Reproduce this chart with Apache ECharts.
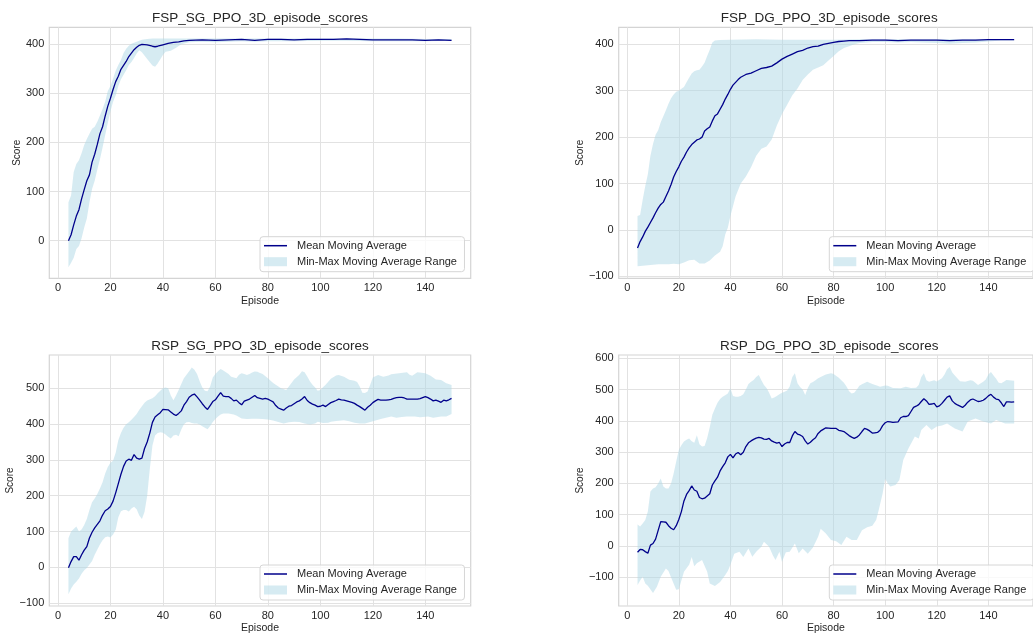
<!DOCTYPE html>
<html>
<head>
<meta charset="utf-8">
<script src="https://cdn.jsdelivr.net/npm/echarts@6/dist/echarts.min.js"></script>
<style>
html,body{margin:0;padding:0;background:#ffffff;}
#chart{width:1033px;height:636px;}
</style>
</head>
<body>
<div id="chart"></div>
<script>
// ---------------- DATA ----------------
const titles = [
  'FSP_SG_PPO_3D_episode_scores',
  'FSP_DG_PPO_3D_episode_scores',
  'RSP_SG_PPO_3D_episode_scores',
  'RSP_DG_PPO_3D_episode_scores'
];
const meanName = 'Mean Moving Average';
const rangeName = 'Min-Max Moving Average Range';
const xAxisName = 'Episode';
const yAxisName = 'Score';
const xTicks = [0, 20, 40, 60, 80, 100, 120, 140];
const p1YTicks = [0, 100, 200, 300, 400];
const p2YTicks = [-100, 0, 100, 200, 300, 400];
const p3YTicks = [-100, 0, 100, 200, 300, 400, 500];
const p4YTicks = [-100, 0, 100, 200, 300, 400, 500, 600];

// Panel 1: FSP_SG
const p1Mean = [[4,0],[5,12],[6,32],[7,50],[8,63],[9,85],[10,104],[11,122],[12,134],[13,160],[14,176],[15,196],[16,218],[17,232],[18,254],[19,274],[20,290],[21,308],[22,324],[23,335],[24,349],[25,357],[26,365],[27,375],[28,382],[29,389],[30,394],[31,398],[32,400],[34,399],[36,396],[37,395],[38,396],[40,399],[42,402],[44,404],[46,405],[48,407],[50,408],[55,409],[60,408],[65,409],[70,410],[75,408],[80,410],[85,410],[90,409],[95,410],[100,410],[105,410],[110,411],[115,410],[120,409],[125,409],[130,409],[135,409],[140,408],[145,409],[150,408]];
const p1Max = [[4,78],[5,92],[6,140],[7,156],[8,164],[9,178],[10,195],[11,207],[12,218],[13,228],[14,232],[15,242],[16,255],[17,268],[18,283],[19,305],[20,315],[21,330],[22,346],[23,358],[24,368],[25,382],[26,391],[27,397],[28,401],[29,403],[30,405],[32,409],[34,411],[36,412],[40,412],[50,412],[60,412],[70,412],[80,412],[90,412],[100,412],[110,412],[120,412],[130,412],[140,411],[150,411]];
const p1Min = [[4,-54],[5,-45],[6,-35],[7,-17],[8,-11],[9,5],[10,27],[11,45],[12,78],[13,105],[14,122],[15,145],[16,166],[17,190],[18,215],[19,240],[20,263],[21,283],[22,296],[23,315],[24,329],[25,338],[26,347],[27,358],[28,364],[29,372],[30,381],[31,388],[32,384],[34,370],[36,357],[37,354],[38,361],[40,378],[41,385],[43,387],[45,393],[47,400],[50,404],[55,405],[60,404],[65,405],[70,406],[75,405],[80,406],[90,406],[100,407],[110,407],[120,406],[130,406],[140,406],[150,407]];

// Panel 2: FSP_DG
const p2Mean = [[4,-39],[5,-25],[6,-15],[7,-3],[8,6],[9,16],[10,26],[11,37],[12,47],[13,55],[14,60],[15,72],[16,84],[17,98],[18,114],[19,126],[20,136],[21,148],[22,157],[23,168],[24,177],[25,184],[26,189],[27,194],[28,196],[29,200],[30,213],[31,218],[32,222],[33,235],[34,246],[35,250],[36,260],[37,270],[38,282],[39,292],[40,303],[41,312],[42,318],[43,324],[44,329],[46,335],[48,338],[50,343],[52,348],[54,350],[56,353],[58,360],[60,368],[62,374],[64,379],[66,384],[68,387],[70,392],[72,395],[74,396],[76,400],[78,402],[80,404],[82,406],[84,407],[86,408],[90,408],[95,409],[100,409],[105,408],[110,409],[115,409],[120,409],[125,408],[130,409],[135,409],[140,410],[145,410],[150,410]];
const p2Max = [[4,30],[5,32],[6,65],[7,95],[8,120],[9,160],[10,185],[11,205],[12,215],[13,232],[14,245],[15,258],[16,272],[17,284],[18,292],[19,298],[20,300],[21,304],[22,308],[23,318],[24,328],[25,337],[26,342],[27,344],[28,345],[29,352],[30,360],[31,375],[32,388],[33,404],[34,408],[36,409],[40,410],[50,411],[60,410],[70,410],[80,410],[90,411],[100,411],[110,411],[120,411],[130,411],[140,411],[150,411]];
const p2Min = [[4,-78],[6,-77],[8,-76],[10,-75],[12,-74],[14,-74],[16,-74],[18,-73],[20,-74],[22,-70],[24,-65],[26,-64],[28,-72],[30,-72],[32,-66],[34,-55],[36,-47],[37,-35],[38,-10],[39,5],[40,30],[42,72],[44,100],[46,115],[48,135],[50,160],[52,175],[54,180],[56,195],[58,225],[60,250],[62,270],[64,290],[66,305],[68,323],[70,335],[72,345],[74,350],[76,355],[78,365],[80,375],[82,385],[84,392],[86,396],[88,400],[90,403],[95,405],[100,405],[105,404],[110,405],[115,404],[120,403],[125,401],[130,403],[135,404],[140,406],[145,408],[150,408]];

// Panel 3: RSP_SG
const p3Mean = [[4,-1],[5,16],[6,30],[7,30],[8,20],[9,35],[10,48],[11,58],[12,82],[13,98],[14,110],[15,120],[16,130],[17,146],[18,158],[19,163],[20,170],[21,185],[22,208],[23,234],[24,260],[25,282],[26,297],[27,302],[28,299],[29,315],[30,305],[31,302],[32,305],[33,332],[34,350],[35,375],[36,405],[37,420],[38,426],[39,432],[40,441],[42,440],[43,434],[44,428],[45,424],[46,430],[47,437],[48,453],[49,463],[50,475],[51,481],[52,484],[53,476],[54,467],[55,457],[56,448],[57,441],[58,452],[59,463],[60,468],[61,478],[62,488],[63,478],[64,477],[65,477],[66,472],[67,465],[68,467],[69,460],[70,454],[71,464],[72,467],[73,470],[74,475],[75,480],[76,474],[77,472],[78,470],[79,472],[80,470],[81,466],[82,462],[83,452],[84,445],[85,442],[86,439],[87,445],[88,450],[89,452],[90,457],[91,462],[92,465],[93,470],[94,477],[95,466],[96,460],[97,456],[98,453],[99,449],[100,450],[101,453],[102,449],[103,455],[104,460],[105,463],[106,466],[107,470],[108,468],[109,467],[110,465],[111,463],[112,461],[113,458],[114,453],[115,449],[116,444],[117,439],[118,447],[119,453],[120,460],[121,465],[122,469],[123,467],[124,467],[125,467],[126,468],[127,469],[128,472],[129,474],[130,475],[131,475],[132,473],[133,470],[134,470],[135,470],[136,470],[137,470],[138,471],[139,474],[140,477],[141,474],[142,470],[143,465],[144,467],[145,464],[146,461],[147,467],[148,465],[149,468],[150,472]];
const p3Max = [[4,81],[5,100],[7,114],[8,100],[9,106],[10,118],[11,135],[12,160],[13,182],[14,192],[15,205],[16,220],[17,238],[18,262],[19,280],[20,292],[21,298],[22,320],[23,355],[24,375],[25,390],[26,400],[27,405],[28,412],[29,420],[30,428],[31,440],[32,450],[33,460],[34,466],[36,472],[37,478],[38,486],[39,493],[40,500],[41,502],[42,500],[43,480],[44,467],[45,480],[46,495],[47,512],[48,528],[49,538],[50,548],[51,558],[52,552],[53,540],[54,520],[55,502],[56,493],[57,492],[58,505],[59,530],[60,540],[61,548],[62,554],[63,550],[64,545],[65,540],[66,532],[67,530],[68,528],[69,538],[70,542],[71,540],[72,537],[73,540],[74,544],[75,547],[76,546],[77,543],[78,540],[80,528],[82,515],[84,505],[85,500],[87,495],[88,505],[89,515],[90,525],[92,538],[93,548],[94,545],[95,533],[96,520],[97,510],[98,502],[99,493],[100,495],[101,503],[102,510],[104,527],[106,536],[107,537],[109,532],[111,524],[113,521],[114,518],[115,505],[116,488],[117,487],[118,491],[119,510],[120,530],[122,537],[124,532],[126,536],[127,539],[130,542],[133,545],[134,538],[135,535],[137,545],[140,542],[142,535],[144,525],[146,523],[148,514],[150,509]];
const p3Min = [[4,-75],[5,-59],[6,-48],[7,-40],[8,-31],[9,-18],[10,-8],[11,-2],[12,8],[13,18],[14,35],[15,50],[16,64],[17,76],[18,84],[19,86],[20,83],[21,92],[22,105],[23,140],[24,157],[25,160],[26,160],[27,156],[28,164],[29,169],[30,162],[31,145],[32,135],[33,155],[34,200],[35,275],[36,340],[37,368],[38,375],[39,377],[40,376],[41,371],[42,365],[43,360],[44,368],[45,370],[46,366],[47,385],[48,400],[49,405],[50,406],[51,403],[52,402],[53,402],[54,399],[55,394],[56,390],[57,386],[58,395],[59,406],[60,414],[61,421],[62,427],[63,430],[65,430],[67,427],[68,424],[70,416],[72,414],[74,415],[76,415],[78,414],[80,413],[82,410],[84,406],[86,402],[88,405],[90,407],[92,406],[94,402],[96,399],[98,402],[99,407],[101,403],[103,404],[104,407],[106,409],[109,411],[111,408],[113,404],[115,402],[117,402],[119,406],[121,410],[123,414],[125,418],[127,421],[129,418],[131,420],[133,421],[136,421],[138,419],[141,421],[143,418],[146,421],[148,421],[149,425],[150,428]];

// Panel 4: RSP_DG
const p4Mean = [[4,-20],[5,-11],[6,-12],[7,-18],[8,-23],[9,3],[10,8],[11,22],[12,50],[13,78],[14,77],[15,76],[16,65],[17,57],[18,52],[19,65],[20,85],[21,110],[22,144],[23,165],[24,177],[25,192],[26,179],[27,175],[28,155],[29,151],[30,153],[31,160],[32,167],[33,195],[34,208],[35,220],[36,240],[37,254],[38,266],[39,285],[40,293],[41,282],[42,294],[43,299],[44,292],[45,300],[46,318],[47,330],[48,336],[49,341],[50,345],[51,347],[52,346],[53,342],[54,341],[55,344],[56,336],[57,332],[58,329],[59,331],[60,318],[61,326],[62,331],[63,331],[64,352],[65,366],[66,358],[67,355],[68,350],[69,336],[70,326],[71,332],[72,340],[73,346],[74,360],[75,368],[76,373],[77,378],[78,377],[79,376],[80,376],[81,376],[82,370],[83,368],[84,366],[85,360],[86,353],[87,348],[88,344],[89,348],[90,355],[91,366],[92,376],[93,373],[94,368],[95,361],[96,362],[97,363],[98,370],[99,385],[100,394],[101,398],[102,397],[103,395],[104,396],[105,397],[106,410],[107,414],[108,414],[109,417],[110,430],[111,443],[112,447],[113,452],[114,462],[115,471],[116,464],[117,453],[118,454],[119,456],[120,445],[121,448],[122,456],[123,466],[124,476],[125,480],[126,464],[127,456],[128,451],[129,447],[130,443],[131,450],[132,460],[133,467],[134,470],[135,466],[136,462],[137,463],[138,466],[139,472],[140,480],[141,485],[142,476],[143,470],[144,468],[145,458],[146,446],[147,461],[148,461],[149,460],[150,461]];
const p4Max = [[4,69],[5,62],[6,72],[7,83],[8,110],[9,174],[10,184],[11,188],[12,200],[13,216],[14,190],[15,184],[16,184],[17,200],[18,232],[19,270],[20,307],[21,322],[22,334],[23,340],[24,344],[25,335],[26,330],[27,354],[28,325],[29,318],[30,320],[31,345],[32,380],[33,420],[34,440],[35,458],[36,470],[37,477],[38,482],[39,488],[40,504],[41,480],[42,477],[43,477],[44,480],[45,485],[46,500],[47,518],[48,525],[49,531],[50,540],[51,547],[52,530],[53,515],[54,505],[55,490],[56,472],[57,475],[58,480],[59,485],[60,490],[61,493],[62,497],[63,510],[64,540],[65,552],[66,520],[67,508],[68,500],[69,483],[70,505],[71,520],[72,524],[73,530],[74,536],[75,540],[77,548],[79,552],[80,550],[82,538],[84,522],[85,510],[86,495],[87,488],[88,490],[89,500],[90,512],[91,517],[93,525],[95,518],[97,512],[98,509],[100,513],[101,512],[103,505],[106,504],[108,509],[110,505],[112,506],[113,515],[114,540],[115,552],[116,530],[117,525],[119,530],[120,526],[122,536],[123,548],[124,565],[125,572],[126,555],[127,545],[129,527],[131,525],[133,530],[134,528],[136,515],[138,525],[139,532],[140,548],[141,556],[142,545],[143,535],[144,522],[145,520],[146,525],[147,531],[148,530],[150,528]];
const p4Min = [[4,-125],[5,-110],[6,-98],[7,-120],[8,-127],[10,-150],[11.5,-130],[13,-98],[15,-72],[16,-80],[17.5,-110],[19,-140],[20,-138],[21,-110],[22,-82],[24,-60],[25,-35],[26,-65],[27,-55],[29,-45],[31,-82],[32,-120],[34,-128],[36,-115],[38,-93],[39,-80],[40,-60],[41.5,-25],[43.5,-18],[45,-35],[47,-8],[48.5,-34],[50,-18],[52,-2],[53,14],[55,-2],[56.5,-30],[57.5,-45],[59,-18],[60,-50],[61.5,-20],[63,-18],[65,8],[66.5,-23],[68,-8],[70,-25],[72,-5],[74,30],[75,55],[77,40],[79,19],[81,15],[83,3],[85,30],[87,19],[89,19],[91,50],[93,60],[95,65],[96.5,83],[97.5,115],[99,168],[100,215],[101,200],[102,190],[104,195],[105.5,211],[107,275],[109,312],[111.5,350],[113,344],[114,371],[116,387],[118,371],[120,382],[122,385],[124,392],[127,376],[130,366],[132,398],[135,408],[138,398],[141,392],[143,403],[146.5,392],[150,392]];

// ---------------- LAYOUT / STYLE ----------------
const FONT = '"Liberation Sans", Arial, sans-serif';
const TEXT = '#262626';
const GRIDC = '#e2e2e2';
const FRAMEC = '#d4d4d4';
const LINEC = '#00008b';
const BANDC = 'rgba(173,216,230,0.5)';
const LINE_ICON = 'path://M0,0 L46,0 L46,3 L0,3 Z';

const panels = [
  {title: titles[0], mean: p1Mean, max: p1Max, min: p1Min, yTicks: p1YTicks},
  {title: titles[1], mean: p2Mean, max: p2Max, min: p2Min, yTicks: p2YTicks},
  {title: titles[2], mean: p3Mean, max: p3Max, min: p3Min, yTicks: p3YTicks},
  {title: titles[3], mean: p4Mean, max: p4Max, min: p4Min, yTicks: p4YTicks}
];
const layouts = [
  {left: 49.3, top: 27.3, width: 421.4, height: 251, yMin: -76.7, yMax: 434.6, yGap: 27, tx: 260, ty: 18, lx: 260, ly: 236.7},
  {left: 618.7, top: 27.3, width: 421, height: 251, yMin: -104.1, yMax: 436.6, yGap: 33, tx: 829.2, ty: 18, lx: 829.3, ly: 236.7},
  {left: 49.3, top: 355, width: 421.4, height: 251, yMin: -108, yMax: 593.1, yGap: 32.5, tx: 260, ty: 346, lx: 260, ly: 565},
  {left: 618.7, top: 355, width: 421, height: 251, yMin: -191.8, yMax: 610.7, yGap: 33, tx: 829.2, ty: 346, lx: 829.3, ly: 565}
];
const X_MIN = -3.3, X_MAX = 157.3;

function fmt(v) { return v < 0 ? '\u2212' + Math.abs(v) : String(v); }

function bandRenderer(upper, lower) {
  return function (params, api) {
    const pts = upper.map(p => api.coord(p)).concat(lower.slice().reverse().map(p => api.coord(p)));
    return {type: 'polygon', shape: {points: pts}, style: {fill: BANDC}};
  };
}

const option = {
  animation: false,
  backgroundColor: '#ffffff',
  title: [], grid: [], xAxis: [], yAxis: [], legend: [], series: []
};

panels.forEach((p, i) => {
  const L = layouts[i];
  option.title.push({
    text: p.title, left: L.tx, top: L.ty, padding: 0,
    textAlign: 'center', textVerticalAlign: 'middle',
    textStyle: {fontFamily: FONT, fontSize: 13.5, fontWeight: 'normal', color: TEXT}
  });
  option.grid.push({
    left: L.left, top: L.top, width: L.width, height: L.height,
    show: true, backgroundColor: '#ffffff', borderColor: FRAMEC, borderWidth: 1.2, containLabel: false
  });
  option.xAxis.push({
    type: 'value', gridIndex: i, min: X_MIN, max: X_MAX,
    name: xAxisName, nameLocation: 'middle', nameGap: 17,
    nameTextStyle: {fontFamily: FONT, fontSize: 10.5, color: TEXT},
    axisLine: {show: false}, axisTick: {show: false, customValues: xTicks},
    axisLabel: {customValues: xTicks, fontFamily: FONT, fontSize: 11, color: TEXT, margin: 4},
    splitLine: {show: true, customValues: xTicks, lineStyle: {color: GRIDC, width: 1}}
  });
  option.yAxis.push({
    type: 'value', gridIndex: i, min: L.yMin, max: L.yMax,
    name: yAxisName, nameLocation: 'middle', nameGap: L.yGap, nameRotate: 90,
    nameTextStyle: {fontFamily: FONT, fontSize: 10, color: TEXT},
    axisLine: {show: false}, axisTick: {show: false, customValues: p.yTicks},
    axisLabel: {customValues: p.yTicks, formatter: fmt, fontFamily: FONT, fontSize: 11, color: TEXT, margin: 5},
    splitLine: {show: true, customValues: p.yTicks, lineStyle: {color: GRIDC, width: 1}}
  });
  option.series.push({
    type: 'custom', name: rangeName, xAxisIndex: i, yAxisIndex: i,
    renderItem: bandRenderer(p.max, p.min), data: [[p.mean[0][0], p.mean[0][1]]],
    itemStyle: {color: BANDC}, silent: true, z: 2, clip: true
  });
  option.series.push({
    type: 'line', name: meanName, xAxisIndex: i, yAxisIndex: i,
    data: p.mean, symbol: 'none', smooth: false,
    lineStyle: {color: LINEC, width: 1.3}, itemStyle: {color: LINEC}, z: 3, silent: true
  });
  option.legend.push({
    left: L.lx, top: L.ly, orient: 'vertical', selectedMode: false,
    padding: [3.5, 7.5, 4.5, 4], itemGap: 5, itemWidth: 23, itemHeight: 9,
    symbolKeepAspect: true,
    backgroundColor: 'rgba(255,255,255,0.8)', borderColor: '#d6d6d6', borderWidth: 1, borderRadius: 3,
    textStyle: {fontFamily: FONT, fontSize: 11, color: TEXT, padding: [0, 0, 0, 5]},
    data: [
      {name: meanName, icon: LINE_ICON, itemStyle: {color: LINEC}},
      {name: rangeName, icon: 'rect', itemStyle: {color: BANDC}}
    ]
  });
});

const chart = echarts.init(document.getElementById('chart'), null, {renderer: 'canvas'});
chart.setOption(option);
</script>
</body>
</html>
